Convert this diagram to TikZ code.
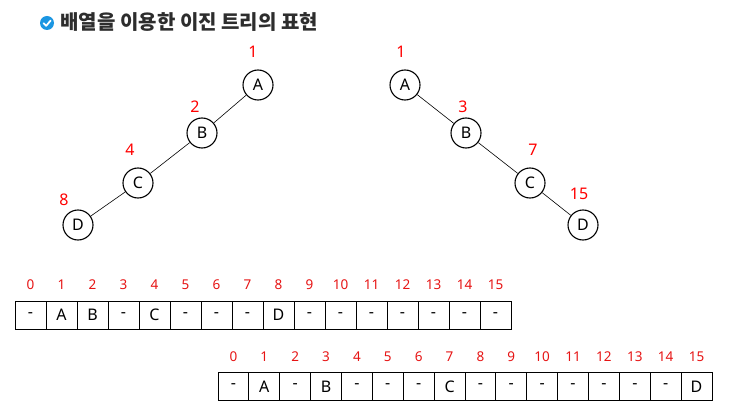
\documentclass[tikz,border=0pt]{standalone}
\usepackage{fontspec}
\setmainfont{Noto Sans}
\newfontfamily\krfont{Noto Sans CJK KR}
\usetikzlibrary{positioning}
\definecolor{checkblue}{RGB}{27,150,226}
\definecolor{titlegray}{RGB}{45,45,45}
\definecolor{idxred}{RGB}{230,20,20}

\begin{document}
\begin{tikzpicture}[x=1pt,y=-1pt,
        treenode/.style={circle,draw,line width=1.1pt,minimum size=30pt,inner sep=0pt,font=\fontsize{16}{16}\selectfont},
        numlabel/.style={text=red,font=\fontsize{16}{16}\selectfont},
        idx/.style={text=idxred,font=\fontsize{13.5}{13.5}\selectfont},
        cell/.style={draw,line width=0.9pt,minimum height=28pt,inner sep=0pt,font=\fontsize{16}{16}\selectfont}]
        \useasboundingbox (0,0) rectangle (743,414);
        % Draw title
        \fill[checkblue] (47,23) circle (7);
        \draw[white,line width=1.8pt,line cap=round,line join=round] (43.6,23.2) -- (46.2,25.8) -- (50.6,20.6);
        \node[anchor=west,text=titlegray,font=\krfont\bfseries\fontsize{20}{20}\selectfont] (title) at (57,22) {배열을 이용한 이진 트리의 표현};
        % Draw left tree
        \node[treenode] (la) at (258,85) {A};
        \node[treenode] (lb) at (202,133) {B};
        \node[treenode] (lc) at (138,183) {C};
        \node[treenode] (ld) at (78,225) {D};
        \draw[line width=0.6pt] (la) -- (lb);
        \draw[line width=0.6pt] (lb) -- (lc);
        \draw[line width=0.6pt] (lc) -- (ld);
        \node[numlabel] (la-num) at (253,52) {1};
        \node[numlabel] (lb-num) at (195,107) {2};
        \node[numlabel] (lc-num) at (130,150) {4};
        \node[numlabel] (ld-num) at (64,200) {8};
        % Draw right tree
        \node[treenode] (ra) at (405,85) {A};
        \node[treenode] (rb) at (466,133) {B};
        \node[treenode] (rc) at (530,183) {C};
        \node[treenode] (rd) at (583,225) {D};
        \draw[line width=0.6pt] (ra) -- (rb);
        \draw[line width=0.6pt] (rb) -- (rc);
        \draw[line width=0.6pt] (rc) -- (rd);
        \node[numlabel] (ra-num) at (401,52) {1};
        \node[numlabel] (rb-num) at (463,107) {3};
        \node[numlabel] (rc-num) at (533,150) {7};
        \node[numlabel] (rd-num) at (579,194) {15};
        % Draw first array
        \foreach \v [count=\i from 0] in {-,A,B,-,C,-,-,-,D,-,-,-,-,-,-,-} {
            \node[cell,minimum width=31pt] (p\i) at (30.5+31*\i,315) {\v};
            \node[idx] (pidx\i) at (30.5+31*\i,285) {\i};
        }
        % Draw second array
        \foreach \v [count=\i from 0] in {-,A,-,B,-,-,-,C,-,-,-,-,-,-,-,D} {
            \node[cell,minimum width=30.875pt] (q\i) at (233.44+30.875*\i,386.5) {\v};
            \node[idx] (qidx\i) at (233.44+30.875*\i,357) {\i};
        }
    \end{tikzpicture}
\end{document}
